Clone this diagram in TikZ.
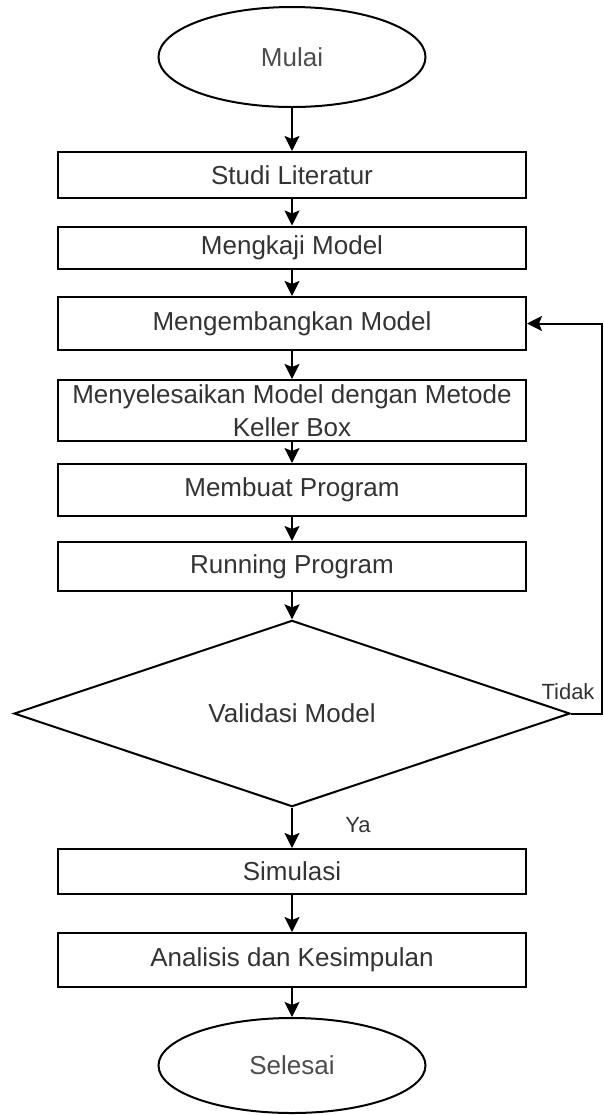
\documentclass[tikz,border=0pt]{standalone}
\usepackage{fontspec}
\setmainfont{Liberation Sans}
\usetikzlibrary{shapes.geometric,arrows.meta}
\definecolor{txt}{HTML}{333333}
\definecolor{txtl}{HTML}{4D4D4D}
\begin{document}
\begin{tikzpicture}[x=0.5pt,y=-0.5pt,
  box/.style={draw, line width=1pt, minimum width=234pt, inner sep=0pt,
    font=\fontsize{13}{16.5}\selectfont, text=txt, align=center},
  term/.style={ellipse, draw, line width=1pt, minimum width=133.5pt,
    minimum height=50pt, inner sep=0pt, font=\fontsize{13}{16}\selectfont, text=txtl},
  decision/.style={diamond, draw, line width=1pt, minimum width=278pt,
    minimum height=80.5pt, inner sep=0pt, font=\fontsize{13}{16}\selectfont, text=txt},
  arr/.style={-{Stealth[length=7.5pt,width=7.5pt,inset=1.5pt]}, line width=1pt},
  lbl/.style={font=\fontsize{11}{13}\selectfont, text=txt, inner sep=0pt}]
\useasboundingbox (0,0) rectangle (604,1115);
\node[term] (start) at (292,57) {Mulai};
\node[box, minimum height=23pt] (b1) at (292,175) {Studi Literatur};
\node[box, minimum height=21pt] (b2) at (292,247.5) {Mengkaji Model};
\node[box, minimum height=26.5pt] (b3) at (292,323.5) {Mengembangkan Model};
\node[box, minimum height=30.5pt] (b4) at (292,410.5) {Menyelesaikan Model dengan Metode\\Keller Box};
\node[box, minimum height=26pt] (b5) at (292,490) {Membuat Program};
\node[box, minimum height=24.5pt] (b6) at (292,566.5) {Running Program};
\node[decision] (dec) at (292,713.5) {Validasi Model};
\node[box, minimum height=22.5pt] (b7) at (292,871.5) {Simulasi};
\node[box, minimum height=27pt] (b8) at (292,960) {Analisis dan Kesimpulan};
\node[term, minimum height=47.5pt] (end) at (292,1065.5) {Selesai};
\node[lbl] (tidak) at (568,692) {Tidak};
\node[lbl] (ya) at (358,825) {Ya};
\coordinate (fb) at (602,713.5);
\draw[arr] (start) -- (b1);
\draw[arr] (b1) -- (b2);
\draw[arr] (b2) -- (b3);
\draw[arr] (b3) -- (b4);
\draw[arr] (b4) -- (b5);
\draw[arr] (b5) -- (b6);
\draw[arr] (b6) -- (dec);
\draw[arr] (dec) -- (b7);
\draw[arr] (b7) -- (b8);
\draw[arr] (b8) -- (end);
\draw[arr] (dec.east) -- (fb) |- (b3.east);
\end{tikzpicture}
\end{document}
